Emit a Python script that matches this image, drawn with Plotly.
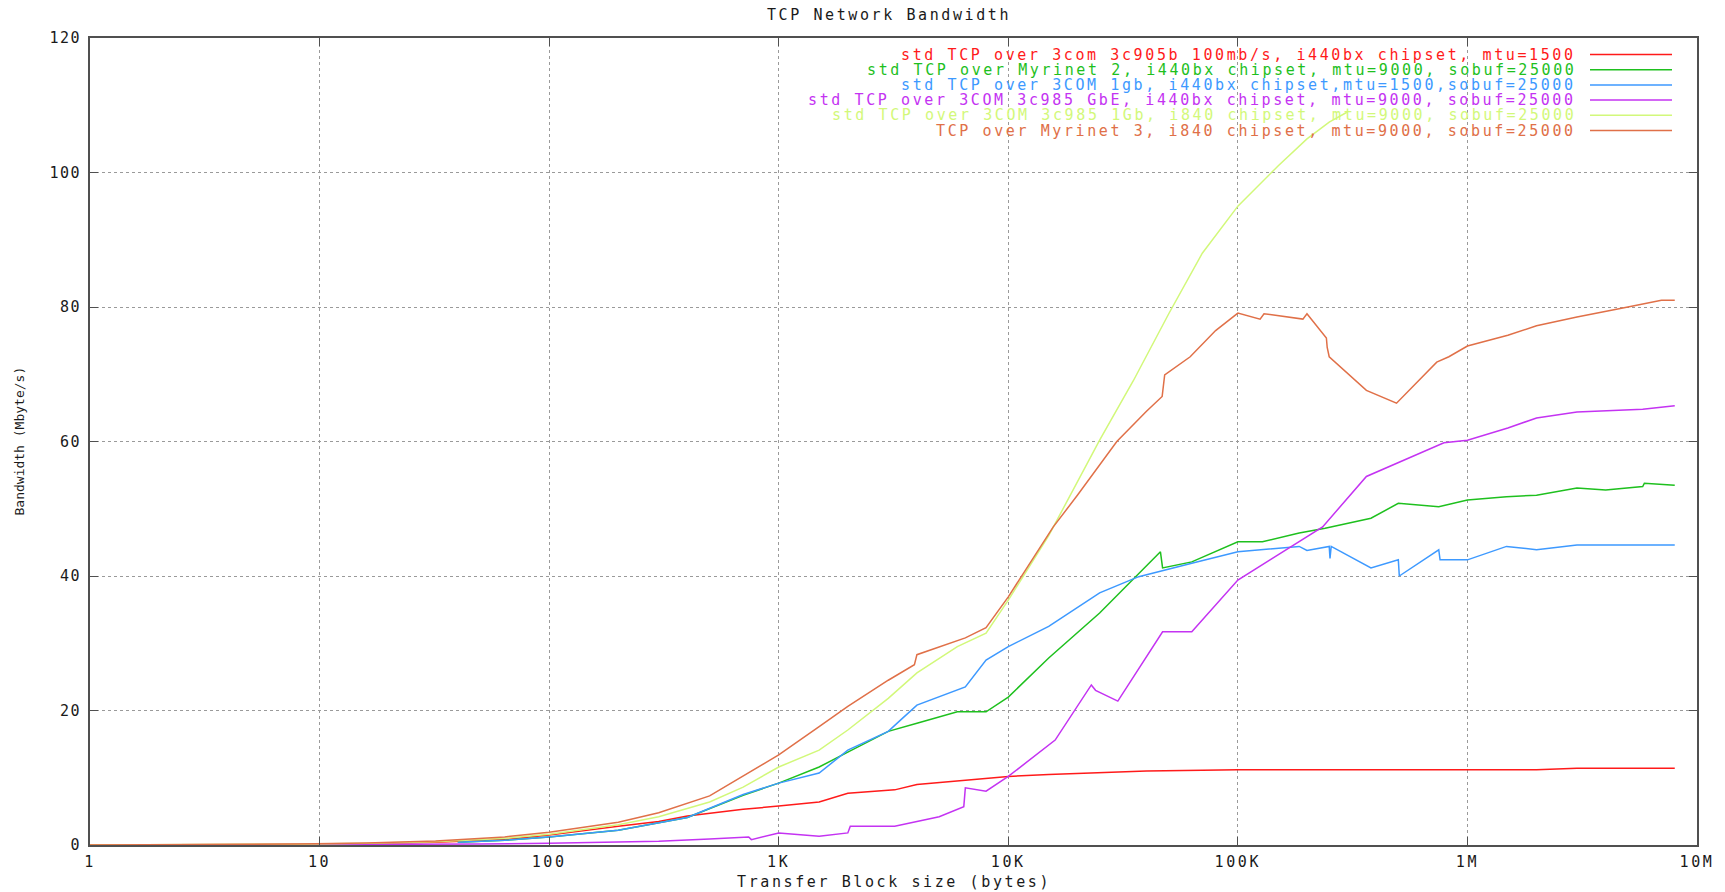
import plotly.graph_objects as go

# ---------------- data ----------------
names = [
    "std TCP over 3com 3c905b 100mb/s, i440bx chipset, mtu=1500",
    "std TCP over Myrinet 2, i440bx chipset, mtu=9000, sobuf=25000",
    "std TCP over 3COM 1gb, i440bx chipset,mtu=1500,sobuf=25000",
    "std TCP over 3COM 3c985 GbE, i440bx chipset, mtu=9000, sobuf=25000",
    "std TCP over 3COM 3c985 1Gb, i840 chipset, mtu=9000, sobuf=25000",
    "TCP over Myrinet 3, i840 chipset, mtu=9000, sobuf=25000",
]
colors = ["#ff1a1a", "#1ec01e", "#3d99ff", "#c433f2", "#d2f87a", "#e07048"]

red_x = [1, 2, 4, 8, 16, 32, 64, 100, 200, 300, 400, 500, 700, 1000, 1500, 2000, 3200, 4000,
         5000, 7000, 10000, 15000, 25000, 40000, 70000, 100000, 200000, 500000, 1000000,
         2000000, 3000000, 5000000, 8000000]
red_y = [0.01, 0.02, 0.05, 0.1, 0.2, 0.4, 0.8, 1.5, 2.8, 3.5, 4.3, 4.7, 5.3, 5.8, 6.4, 7.7, 8.2, 9.0,
         9.3, 9.8, 10.2, 10.5, 10.8, 11.0, 11.1, 11.2, 11.2, 11.2, 11.2,
         11.2, 11.4, 11.4, 11.4]

green_x = [40, 64, 100, 200, 400, 700, 1000, 1500, 2000, 3000, 4000, 6000, 8000, 10000, 15000,
           25000, 46000, 47000, 63000, 100000, 128000, 185000, 240000, 380000, 500000, 750000,
           1000000, 1480000, 2000000, 3000000, 4000000, 5800000, 5900000, 8000000]
green_y = [0.4, 0.7, 1.2, 2.2, 4.1, 7.4, 9.2, 11.6, 13.8, 16.9, 18.1, 19.8, 19.8, 22.0, 27.8,
           34.5, 43.6, 41.2, 42.1, 45.1, 45.1, 46.4, 47.1, 48.6, 50.8, 50.3,
           51.3, 51.8, 52.0, 53.1, 52.8, 53.3, 53.8, 53.5]

blue_x = [40, 64, 100, 200, 400, 700, 1000, 1500, 2000, 3000, 3400, 4000, 6500, 8000, 10000,
          15000, 25000, 37000, 63000, 100000, 185000, 200000, 250000, 252000, 255000, 380000,
          500000, 505000, 750000, 760000, 1000000, 1480000, 2000000, 3000000, 5000000, 8000000]
blue_y = [0.4, 0.7, 1.2, 2.2, 4.1, 7.5, 9.2, 10.7, 14.1, 16.9, 18.6, 20.8, 23.5, 27.5, 29.5,
          32.5, 37.5, 39.9, 41.9, 43.6, 44.4, 43.8, 44.4, 42.6, 44.4, 41.2,
          42.4, 40.0, 43.9, 42.4, 42.4, 44.4, 43.9, 44.6, 44.6, 44.6]

magenta_x = [5, 10, 20, 50, 100, 200, 300, 500, 700, 740, 760, 1000, 1500, 2000, 2050, 3200,
             5000, 6400, 6500, 8000, 10000, 16000, 23000, 24000, 30000, 47000, 63000, 100000,
             234000, 363000, 790000, 1000000, 1500000, 2000000, 3000000, 5800000, 8000000]
magenta_y = [0.02, 0.04, 0.08, 0.15, 0.25, 0.4, 0.55, 0.9, 1.2, 1.2, 0.8, 1.8, 1.3, 1.8, 2.8, 2.8,
             4.2, 5.7, 8.5, 8.0, 10.2, 15.6, 23.8, 23.0, 21.4, 31.7, 31.7, 39.4,
             47.3, 54.8, 59.8, 60.2, 62.0, 63.5, 64.4, 64.8, 65.3]

yellow_x = [1, 2, 4, 8, 16, 32, 64, 100, 200, 300, 500, 700, 1000, 1500, 2000, 3000, 4000, 6000,
            8000, 10000, 15000, 25000, 35000, 50000, 70000, 100000, 150000, 200000, 250000, 300000]
yellow_y = [0.01, 0.03, 0.06, 0.12, 0.25, 0.5, 1.0, 1.6, 3.0, 4.2, 6.4, 8.6, 11.6, 14.1, 17.1,
            21.8, 25.6, 29.5, 31.5, 36.4, 46.0, 60.2, 69.0, 79.0, 88.0, 95.0, 101.0, 105.0,
            107.5, 109.0]

orange_x = [1, 2, 4, 8, 16, 32, 64, 100, 200, 300, 500, 700, 1000, 1500, 2000, 3000, 3900, 4000,
            6500, 8000, 10000, 15700, 20000, 29700, 40000, 46800, 48000, 62000, 80000, 100000,
            125000, 130000, 192000, 200000, 243000, 245000, 250000, 363000, 491000, 735000,
            830000, 1000000, 1500000, 2000000, 3000000, 5000000, 7000000, 8000000]
orange_y = [0.01, 0.03, 0.06, 0.15, 0.3, 0.6, 1.2, 1.9, 3.4, 4.8, 7.3, 10.2, 13.4, 17.6, 20.6,
            24.5, 26.8, 28.3, 30.8, 32.3, 36.9, 47.3, 52.0, 60.0, 64.5, 66.7, 69.9, 72.6, 76.5,
            79.1, 78.2, 79.0, 78.2, 79.0, 75.4, 74.0, 72.6, 67.6, 65.7, 71.8,
            72.6, 74.2, 75.8, 77.2, 78.5, 80.0, 81.0, 81.0]

series_x = [red_x, green_x, blue_x, magenta_x, yellow_x, orange_x]
series_y = [red_y, green_y, blue_y, magenta_y, yellow_y, orange_y]

x_tickvals = [1, 10, 100, 1000, 10000, 100000, 1000000, 10000000]
x_ticktext = ["1", "10", "100", "1K", "10K", "100K", "1M", "10M"]
y_tickvals = [0, 20, 40, 60, 80, 100, 120]
y_ticktext = ["0", "20", "40", "60", "80", "100", "120"]

# ---------------- figure ----------------
FONT = "DejaVu Sans Mono"
FS = 15
W, H = 1725, 892
ML, MR, MT, MB = 90, 28, 38, 47
PW, PH = W - ML - MR, H - MT - MB
TXT = "#1a1a1a"


def wide(s, sp=2.6):
    # gnuplot's bitmap font is wide: emulate with letter spacing
    return '<span style="letter-spacing:%.1fpx">%s</span>' % (sp, s)


fig = go.Figure()
for xs, ys, nm, c in zip(series_x, series_y, names, colors):
    fig.add_trace(go.Scatter(x=xs, y=ys, mode="lines", name=nm,
                             line=dict(color=c, width=1.5), showlegend=False))

# gnuplot-style key: right-aligned text, sample line on the right
ann = []
shapes = []
row0 = 54.5
step = 15.2
for i, (nm, c) in enumerate(zip(names, colors)):
    ypix = row0 + i * step
    yp = (H - MB - ypix) / PH
    ann.append(dict(text=wide(nm), x=(1578 - ML) / PW, y=yp, xref="paper", yref="paper",
                    xanchor="right", yanchor="middle", showarrow=False,
                    font=dict(family=FONT, size=FS, color=c)))
    shapes.append(dict(type="line", xref="paper", yref="paper",
                       x0=(1590 - ML) / PW, x1=(1672 - ML) / PW, y0=yp, y1=yp,
                       line=dict(color=c, width=1.5)))

ann.append(dict(text=wide("Transfer Block size (bytes)"), x=0.5, y=0, xref="paper",
                yref="paper", xanchor="center", yanchor="middle", yshift=-37,
                showarrow=False, font=dict(family=FONT, size=FS, color=TXT)))
ann.append(dict(text="Bandwidth (Mbyte/s)", x=0, y=0.5, xref="paper", yref="paper",
                xanchor="center", yanchor="middle", xshift=-71, textangle=-90,
                showarrow=False, font=dict(family=FONT, size=13, color=TXT)))

fig.update_layout(
    width=W, height=H,
    margin=dict(l=ML, r=MR, t=MT, b=MB),
    paper_bgcolor="white", plot_bgcolor="white",
    font=dict(family=FONT, size=FS, color=TXT),
    title=dict(text=wide("TCP Network Bandwidth"), x=889 / W, xanchor="center",
               y=1 - 15 / H, yanchor="middle", yref="container",
               font=dict(family=FONT, size=FS, color=TXT)),
    annotations=ann, shapes=shapes,
)
fig.update_xaxes(type="log", range=[0, 7], tickvals=x_tickvals,
                 ticktext=[wide(t) for t in x_ticktext],
                 showgrid=True, gridcolor="#9a9a9a", griddash="dot", gridwidth=1,
                 showline=True, linecolor="#505050", linewidth=2, mirror="ticks",
                 ticks="inside", ticklen=8, tickcolor="#505050", zeroline=False,
                 ticklabelstandoff=2,
                 tickfont=dict(family=FONT, size=15, color=TXT))
fig.update_yaxes(range=[0, 120], tickvals=y_tickvals,
                 ticktext=[wide(t, 1.5) for t in y_ticktext],
                 showgrid=True, gridcolor="#9a9a9a", griddash="dot", gridwidth=1,
                 showline=True, linecolor="#505050", linewidth=2, mirror="ticks",
                 ticks="inside", ticklen=8, tickcolor="#505050", zeroline=False,
                 ticklabelstandoff=4,
                 tickfont=dict(family=FONT, size=15, color=TXT))

fig.write_html("out.html")
